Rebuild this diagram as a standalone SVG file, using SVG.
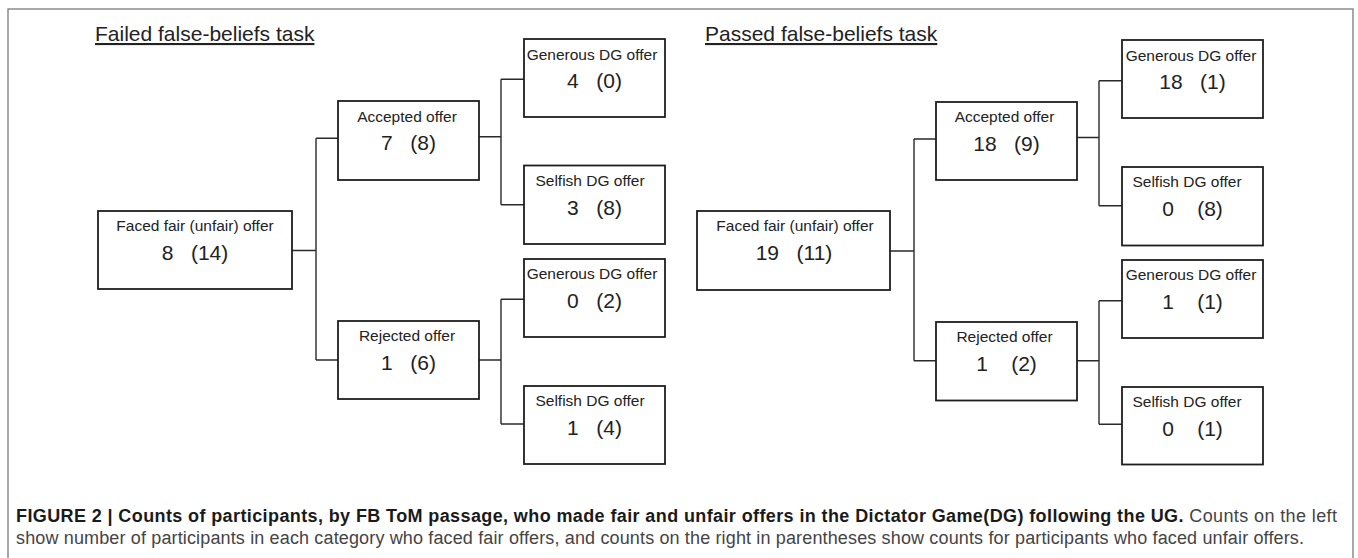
<svg xmlns="http://www.w3.org/2000/svg" width="1358" height="558" viewBox="0 0 1358 558">
<style>
  .frame{fill:#fff;stroke:#7a7a7a;stroke-width:1.3}
  .box{fill:#fff;stroke:#1e1e1e;stroke-width:1.8}
  .conn{fill:none;stroke:#2a2a2a;stroke-width:1.4}
  .lbl{font-family:"Liberation Sans",Arial,sans-serif;font-size:15.5px;fill:#222;text-anchor:middle}
  .num{font-family:"Liberation Sans",Arial,sans-serif;font-size:21px;fill:#222;text-anchor:middle;white-space:pre}
  .title{font-family:"Liberation Sans",Arial,sans-serif;font-size:21px;fill:#222;text-decoration:underline}
  .cap{font-family:"Liberation Sans",Arial,sans-serif;font-size:18px;fill:#444}
  .capb{font-weight:bold;fill:#1a1a1a}
</style>
<rect class="frame" x="8" y="9" width="1345" height="560"/>

<text class="title" x="95" y="41">Failed false-beliefs task</text>
<text class="title" x="705" y="41">Passed false-beliefs task</text>

<g id="connectors">
  <path class="conn" d="M292,250.5H316M316,138.3V360M316,138.3H338M316,360H338"/>
  <path class="conn" d="M479,136.7H501M501,79.3V204.7M501,79.3H524M501,204.7H524"/>
  <path class="conn" d="M479,360H501M501,299.3V424M501,299.3H524M501,424H524"/>
  <path class="conn" d="M890,251H914M914,139V360.7M914,139H936M914,360.7H936"/>
  <path class="conn" d="M1077,137.5H1099M1099,80.7V205.7M1099,80.7H1122M1099,205.7H1122"/>
  <path class="conn" d="M1077,360.7H1099M1099,300.7V424.3M1099,300.7H1122M1099,424.3H1122"/>
</g>

<g id="L-root"><rect class="box" x="98" y="211" width="194" height="78"/>
  <text class="lbl" x="195" y="231">Faced fair (unfair) offer</text>
  <text class="num" x="195" y="260">8   (14)</text></g>
<g id="L-accepted"><rect class="box" x="338" y="101" width="141" height="79"/>
  <text class="lbl" x="407" y="121.5">Accepted offer</text>
  <text class="num" x="408.5" y="150">7   (8)</text></g>
<g id="L-rejected"><rect class="box" x="338" y="321" width="141" height="78"/>
  <text class="lbl" x="407" y="341">Rejected offer</text>
  <text class="num" x="408.5" y="370">1   (6)</text></g>
<g id="L-gen1"><rect class="box" x="524" y="39" width="141" height="78"/>
  <text class="lbl" x="592" y="59.5">Generous DG offer</text>
  <text class="num" x="594.5" y="88">4   (0)</text></g>
<g id="L-sel1"><rect class="box" x="524" y="165.5" width="141" height="78.5"/>
  <text class="lbl" x="590" y="185.5">Selfish DG offer</text>
  <text class="num" x="594.5" y="215">3   (8)</text></g>
<g id="L-gen2"><rect class="box" x="524" y="259" width="141" height="78"/>
  <text class="lbl" x="592" y="279">Generous DG offer</text>
  <text class="num" x="594.5" y="308">0   (2)</text></g>
<g id="L-sel2"><rect class="box" x="524" y="386" width="141" height="78"/>
  <text class="lbl" x="590" y="406">Selfish DG offer</text>
  <text class="num" x="594.5" y="435">1   (4)</text></g>

<g id="R-root"><rect class="box" x="697" y="211" width="193" height="79"/>
  <text class="lbl" x="795" y="231">Faced fair (unfair) offer</text>
  <text class="num" x="794" y="260">19   (11)</text></g>
<g id="R-accepted"><rect class="box" x="936" y="102" width="141" height="78"/>
  <text class="lbl" x="1004.5" y="122">Accepted offer</text>
  <text class="num" x="1006.5" y="151">18   (9)</text></g>
<g id="R-rejected"><rect class="box" x="936" y="322" width="141" height="78.5"/>
  <text class="lbl" x="1004.5" y="342">Rejected offer</text>
  <text class="num" x="1006.5" y="371">1    (2)</text></g>
<g id="R-gen1"><rect class="box" x="1122" y="40" width="141" height="78"/>
  <text class="lbl" x="1191" y="60.5">Generous DG offer</text>
  <text class="num" x="1192.5" y="89">18   (1)</text></g>
<g id="R-sel1"><rect class="box" x="1122" y="167" width="141" height="78.5"/>
  <text class="lbl" x="1187" y="187">Selfish DG offer</text>
  <text class="num" x="1192.5" y="216">0    (8)</text></g>
<g id="R-gen2"><rect class="box" x="1122" y="260" width="141" height="78"/>
  <text class="lbl" x="1191" y="280">Generous DG offer</text>
  <text class="num" x="1192.5" y="309">1    (1)</text></g>
<g id="R-sel2"><rect class="box" x="1122" y="387" width="141" height="77.5"/>
  <text class="lbl" x="1187" y="407">Selfish DG offer</text>
  <text class="num" x="1192.5" y="436">0    (1)</text></g>

<g id="caption">
  <text class="cap" x="16" y="522" textLength="1321"><tspan class="capb">FIGURE 2 | Counts of participants, by FB ToM passage, who made fair and unfair offers in the Dictator Game(DG) following the UG.</tspan> Counts on the left</text>
  <text class="cap" x="16" y="544" textLength="1288">show number of participants in each category who faced fair offers, and counts on the right in parentheses show counts for participants who faced unfair offers.</text>
</g>
</svg>
